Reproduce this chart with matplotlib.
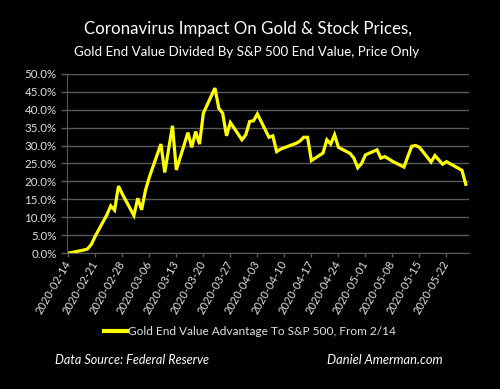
import matplotlib
matplotlib.use("Agg")
import matplotlib.pyplot as plt
import matplotlib.dates as mdates
import pandas as pd

# trading days and gold / S&P 500 end value advantage (%)
dates = ["2020-02-14", "2020-02-18", "2020-02-19", "2020-02-20", "2020-02-21",
         "2020-02-24", "2020-02-25", "2020-02-26", "2020-02-27", "2020-02-28",
         "2020-03-02", "2020-03-03", "2020-03-04", "2020-03-05", "2020-03-06",
         "2020-03-09", "2020-03-10", "2020-03-11", "2020-03-12", "2020-03-13",
         "2020-03-16", "2020-03-17", "2020-03-18", "2020-03-19", "2020-03-20",
         "2020-03-23", "2020-03-24", "2020-03-25", "2020-03-26", "2020-03-27",
         "2020-03-30", "2020-03-31", "2020-04-01", "2020-04-02", "2020-04-03",
         "2020-04-06", "2020-04-07", "2020-04-08", "2020-04-09",
         "2020-04-13", "2020-04-14", "2020-04-15", "2020-04-16", "2020-04-17",
         "2020-04-20", "2020-04-21", "2020-04-22", "2020-04-23", "2020-04-24",
         "2020-04-27", "2020-04-28", "2020-04-29", "2020-04-30", "2020-05-01",
         "2020-05-04", "2020-05-05", "2020-05-06", "2020-05-07", "2020-05-08",
         "2020-05-11", "2020-05-12", "2020-05-13", "2020-05-14", "2020-05-15",
         "2020-05-18", "2020-05-19", "2020-05-20", "2020-05-21", "2020-05-22",
         "2020-05-26", "2020-05-27"]
advantage = [0.0, 0.9, 1.2, 2.5, 4.8,
             10.7, 13.2, 12.0, 18.7, 16.5,
             10.5, 15.3, 12.1, 17.5, 21.2,
             30.4, 22.5, 29.0, 35.5, 23.2,
             33.6, 29.5, 33.9, 30.4, 39.0,
             46.0, 40.4, 39.0, 32.7, 36.4,
             31.6, 33.0, 36.7, 36.9, 38.8,
             32.3, 32.7, 28.3, 29.0,
             30.6, 31.2, 32.3, 32.3, 25.8,
             27.9, 31.6, 30.4, 33.0, 29.5,
             27.8, 26.5, 23.8, 25.0, 27.4,
             28.8, 26.5, 26.9, 26.3, 25.6,
             24.0, 27.0, 29.8, 30.0, 29.5,
             25.4, 27.2, 26.0, 24.8, 25.5,
             23.1, 19.2]
tick_dates = pd.date_range("2020-02-14", "2020-05-22", freq="7D")

x = pd.to_datetime(dates)
fg = "#e0e0e0"
grid = "#5a5a5a"
font = "Lato"

fig = plt.figure(figsize=(5, 3.89), dpi=100, facecolor="black")
ax = fig.add_axes([0.134, 0.349, 0.804, 0.4615], facecolor="black")

ax.plot(x, advantage, color="#ffff00", lw=2.3, solid_joinstyle="miter",
        label="Gold End Value Advantage To S&P 500, From 2/14")

ax.set_xlim(pd.Timestamp("2020-02-14") - pd.Timedelta(hours=8),
            pd.Timestamp("2020-05-27") + pd.Timedelta(hours=20))
ax.set_ylim(0, 50)
ax.set_yticks(range(0, 51, 5))
ax.set_yticklabels([f"{v:.1f}%" for v in range(0, 51, 5)])
ax.set_xticks(tick_dates)
ax.xaxis.set_major_formatter(mdates.DateFormatter("%Y-%m-%d"))
plt.setp(ax.get_xticklabels(), rotation=60, ha="right", va="center",
         rotation_mode="anchor")

ax.yaxis.grid(True, color=grid, lw=1)
ax.set_axisbelow(True)
for s in ["top", "right"]:
    ax.spines[s].set_visible(False)
for s in ["left", "bottom"]:
    ax.spines[s].set_color(grid)
ax.tick_params(colors=grid, labelcolor=fg, width=1)
ax.tick_params(axis="y", labelsize=8.3, length=4.5, pad=3)
ax.tick_params(axis="x", labelsize=8.0, length=3, pad=3)

for t in ax.get_xticklabels() + ax.get_yticklabels():
    t.set_family(font)

fig.text(0.495, 0.925, "Coronavirus Impact On Gold & Stock Prices,", color="white",
         fontsize=12.2, ha="center", va="center", family=font)
fig.text(0.494, 0.866, "Gold End Value Divided By S&P 500 End Value, Price Only", color="white",
         fontsize=9.6, ha="center", va="center", family=font)

leg = fig.legend(loc="center", bbox_to_anchor=(0.5, 0.147), frameon=False,
                 prop={"family": font, "size": 8.6}, handlelength=1.85, handletextpad=0.1)
for t in leg.get_texts():
    t.set_color(fg)
for h in leg.get_lines():
    h.set_linewidth(3)

fig.text(0.11, 0.075, "Data Source: Federal Reserve", color="white", fontsize=9.1,
         style="italic", ha="left", va="center", family=font)
fig.text(0.885, 0.075, "Daniel Amerman.com", color="white", fontsize=9.3,
         style="italic", ha="right", va="center", family=font)

fig.savefig("out.png", dpi=100, facecolor="black")
